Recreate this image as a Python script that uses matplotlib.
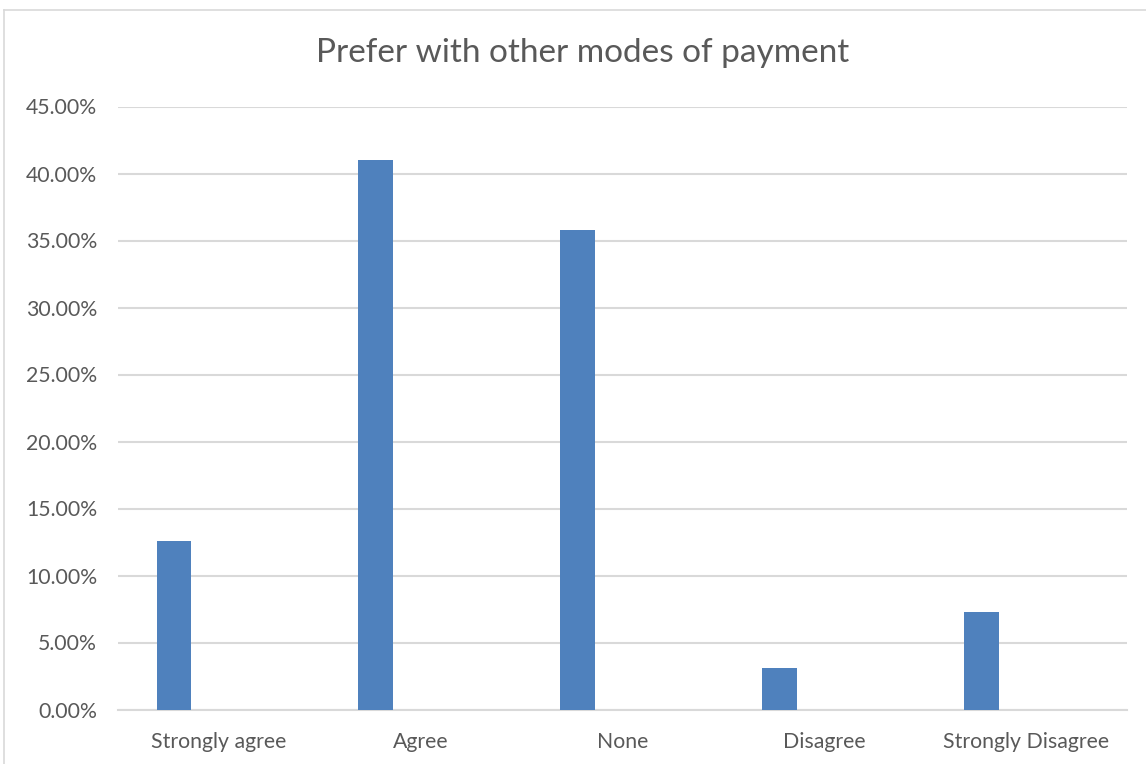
import matplotlib.pyplot as plt
from matplotlib.lines import Line2D
from matplotlib.ticker import FuncFormatter, MultipleLocator
import numpy

plt.rcParams["font.family"] = ["Lato", "DejaVu Sans"]

categories = ["Strongly agree", "Agree", "None", "Disagree", "Strongly Disagree"]
shares = [12.6, 41.0, 35.8, 3.1, 7.3]

text_grey = "#595959"
grid_grey = "#d9d9d9"
bar_blue = "#4f81bd"

fig = plt.figure(figsize=(11.46, 7.64), dpi=100)
ax = fig.add_axes([118 / 1146, 1 - 709.5 / 764, (1127 - 118) / 1146, (709.5 - 106.5) / 764])

x = numpy.arange(len(categories))
# bars sit left of the category centre, like an empty second series beside them
ax.bar(x - 0.2225, shares, width=0.173, color=bar_blue, zorder=3)

ax.set_xlim(-0.5, len(categories) - 0.5)
ax.set_ylim(0, 45)
ax.yaxis.set_major_locator(MultipleLocator(5))
ax.yaxis.set_major_formatter(FuncFormatter(lambda v, pos: f"{v:.2f}%"))
ax.set_xticks(x)
ax.set_xticklabels(categories)

ax.grid(axis="y", color=grid_grey, linewidth=1.5, zorder=0)
for side in ["top", "right", "left"]:
    ax.spines[side].set_visible(False)
ax.spines["bottom"].set_color(grid_grey)
ax.spines["bottom"].set_linewidth(1.5)
ax.tick_params(axis="both", length=0, colors=text_grey, labelsize=15.3)
ax.tick_params(axis="y", pad=15)
ax.tick_params(axis="x", pad=16)

fig.text(0.508, 1 - 53 / 764, "Prefer with other modes of payment", ha="center", va="center",
         fontsize=24, color=text_grey)

# outer chart frame (left and top edges)
fig.add_artist(Line2D([4 / 1146, 4 / 1146], [0, 1 - 10 / 764], transform=fig.transFigure,
                      color=grid_grey, linewidth=1.2))
fig.add_artist(Line2D([4 / 1146, 1], [1 - 10 / 764, 1 - 10 / 764], transform=fig.transFigure,
                      color=grid_grey, linewidth=1.2))

fig.savefig("out.png", dpi=100, facecolor="white")
